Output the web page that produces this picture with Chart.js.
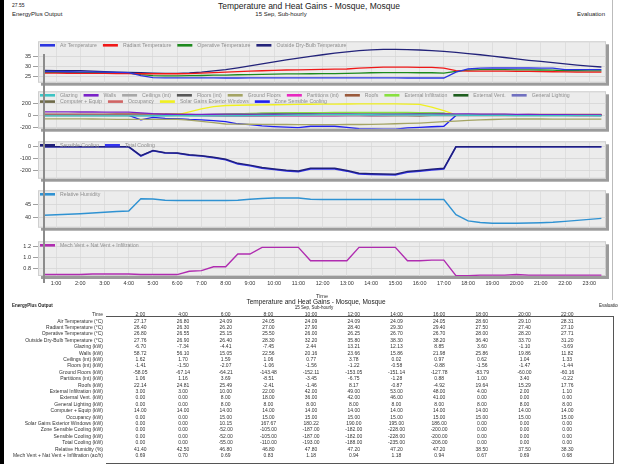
<!DOCTYPE html>
<html><head><meta charset="utf-8">
<script src="https://cdn.jsdelivr.net/npm/chart.js@4/dist/chart.umd.min.js"></script>
<style>
html,body{margin:0;padding:0}
body{width:618px;height:464px;overflow:hidden;background:#fff;position:relative;font-family:"Liberation Sans",Arial,sans-serif;color:#222}
.t{position:absolute;white-space:nowrap;line-height:1}
canvas{position:absolute;left:0}
#edge{position:absolute;left:0;top:0;width:4px;height:464px;background:#000}
#rborder{position:absolute;left:612px;top:0;width:1px;height:300px;background:#bbb}
#cursor{position:absolute;left:43px;top:54px;width:1.5px;height:229px;background:#8c8c8c;z-index:5}
#tbox{position:absolute;left:106px;top:316px;width:507px;height:146px;border-top:1px solid #555;border-right:1px solid #555;border-bottom:1px solid #555}
#tbl{position:absolute;left:0;top:310px;border-collapse:collapse;table-layout:fixed;font-size:5px}
#tbl td{height:6.4px;padding:0;line-height:6.4px;white-space:nowrap;overflow:visible}
#tbl tr.hd td{height:7.5px;line-height:6px}
#tbl td.lab{text-align:right;padding-right:16px;color:#333}
#tbl td.v{text-align:center;color:#333}
</style></head><body>
<div id="edge"></div>
<div id="rborder"></div>
<div class="t" style="left:12px;top:3px;font-size:5px">27.55</div>
<div class="t" style="left:12px;top:11px;font-size:6px">EnergyPlus Output</div>
<div class="t" style="left:309px;top:2px;font-size:8.5px;transform:translateX(-50%)">Temperature and Heat Gains - Mosque, Mosque</div>
<div class="t" style="left:281px;top:11px;font-size:6px;transform:translateX(-50%)">15 Sep, Sub-hourly</div>
<div class="t" style="left:577px;top:11px;font-size:6px">Evaluation</div>

<canvas id="c1" width="618" height="52" style="top:36px"></canvas>
<canvas id="c2" width="618" height="48" style="top:86px"></canvas>
<canvas id="c3" width="618" height="48" style="top:136px"></canvas>
<canvas id="c4" width="618" height="48" style="top:185px"></canvas>
<canvas id="c5" width="618" height="64" style="top:236px"></canvas>
<div id="cursor"></div>

<div class="t" style="left:12px;top:304px;font-size:4.5px;font-weight:bold">EnergyPlus Output</div>
<div class="t" style="left:316px;top:299px;font-size:6.5px;transform:translateX(-50%)">Temperature and Heat Gains - Mosque, Mosque</div>
<div class="t" style="left:314px;top:306px;font-size:4.5px;transform:translateX(-50%)">15 Sep, Sub-hourly</div>
<div class="t" style="left:599px;top:304px;font-size:4.5px">Evaluation</div>
<div id="tbox"></div>
<table id="tbl"></table>

<script>
// Time of each half-hourly sample (hours)
const times = [0.5,1,1.5,2,2.5,3,3.5,4, 4.5,5,5.5,6,6.5,7,7.5,8, 8.5,9,9.5,10,10.5,11,11.5,12,
  12.5,13,13.5,14,14.5,15,15.5,16, 16.5,17,17.5,18,18.5,19,19.5,20, 20.5,21,21.5,22,22.5,23,23.5];
const hourTicks = [1,2,3,4,5,6,7,8,9,10,11,12,13,14,15,16,17,18,19,20,21,22,23];
const tableHours = [2,4,6,8,10,12,14,16,18,20,22];

// Temperatures (°C)
const airTemp = [27.30,27.25,27.20,27.17,27.10,27.00,26.90,26.80, 25.20,24.20,24.10,24.09,24.09,24.09,24.07,24.05,
  24.05,24.07,24.09,24.09,24.09,24.09,24.09,24.09, 24.09,24.09,24.09,24.09,24.09,24.07,24.05,24.05,
  24.05,24.05,27.00,28.60,29.00,29.10,29.10,29.10, 29.10,29.05,29.00,28.31,28.30,28.30,28.30];
const radiantTemp = [26.50,26.50,26.45,26.40,26.40,26.35,26.30,26.30, 26.20,26.20,26.20,26.20,26.30,26.50,26.80,27.00,
  27.30,27.50,27.70,27.90,28.10,28.20,28.30,28.40, 28.50,28.60,29.00,29.30,29.50,29.50,29.50,29.40,
  29.40,29.00,27.80,27.50,27.50,27.50,27.50,27.40, 27.40,27.30,27.20,27.10,27.00,27.00,27.00];
const operativeTemp = [26.90,26.90,26.85,26.80,26.75,26.70,26.60,26.55, 25.70,25.20,25.15,25.15,25.20,25.30,25.45,25.50,
  25.70,25.80,25.90,26.00,26.10,26.15,26.20,26.25, 26.30,26.35,26.50,26.70,26.80,26.80,26.80,26.70,
  26.70,26.50,27.40,28.00,28.30,28.30,28.30,28.20, 28.20,28.10,28.00,27.71,27.70,27.65,27.60];
const outsideTemp = [27.90,27.80,27.80,27.76,27.50,27.20,27.00,26.90, 26.70,26.50,26.40,26.40,26.60,27.00,27.60,28.30,
  29.20,30.20,31.20,32.20,33.20,34.10,35.00,35.80, 36.60,37.30,37.90,38.30,38.50,38.50,38.40,38.20,
  37.90,37.50,37.00,36.40,35.80,35.10,34.40,33.70, 33.00,32.40,31.80,31.20,30.60,30.10,29.60];

// Heat gains (kW)
const glazing = [-6.30,-6.50,-6.60,-6.70,-6.90,-7.10,-7.20,-7.34, -6.00,-5.00,-4.60,-4.41,-5.00,-6.00,-6.80,-7.45,
  -5.00,-3.00,-1.00,2.44,5.00,8.00,10.50,13.21, 13.50,13.30,12.80,12.13,11.50,10.50,9.80,8.85,
  7.50,6.00,4.50,3.60,2.00,0.80,0.00,-1.10, -1.80,-2.40,-3.00,-3.69,-4.00,-4.30,-4.50];
const walls = [59.50,59.20,59.00,58.72,58.00,57.30,56.70,56.10, 45.00,30.00,20.00,15.05,16.00,18.00,20.00,22.56,
  22.00,21.50,21.00,20.16,20.80,21.60,22.50,23.66, 22.00,20.00,18.00,15.86,17.00,19.00,20.50,21.98,
  24.00,26.00,27.00,25.86,24.00,22.00,21.00,19.86, 17.00,15.50,14.00,11.82,11.00,10.50,10.00];
const ceilings = [1.60,1.60,1.61,1.62,1.64,1.66,1.68,1.70, 1.70,1.70,1.60,1.59,1.40,1.20,1.10,1.06,
  1.00,0.90,0.80,0.77,1.50,2.50,3.30,3.78, 3.00,2.00,1.00,0.02,0.30,0.50,0.80,0.97,
  0.90,0.80,0.70,0.62,0.80,0.90,1.00,1.04, 1.10,1.20,1.30,1.33,1.35,1.40,1.40];
const floors = [-1.40,-1.40,-1.41,-1.41,-1.43,-1.45,-1.48,-1.50, -1.70,-1.90,-2.00,-2.07,-1.80,-1.50,-1.20,-1.06,
  -1.20,-1.30,-1.45,-1.56,-1.50,-1.40,-1.30,-1.22, -1.00,-0.80,-0.65,-0.58,-0.65,-0.75,-0.80,-0.88,
  -1.10,-1.30,-1.50,-1.56,-1.52,-1.50,-1.48,-1.47, -1.46,-1.45,-1.45,-1.44,-1.44,-1.43,-1.43];
const groundFloors = [-57.00,-57.50,-57.80,-58.05,-60.00,-62.50,-65.00,-67.14, -66.00,-65.00,-64.50,-64.21,-80.00,-100.00,-120.00,-143.48,
  -146.00,-148.00,-150.00,-152.11,-152.50,-152.80,-153.00,-153.05, -152.80,-152.50,-152.00,-151.14,-145.00,-140.00,-134.00,-127.78,
  -118.00,-105.00,-95.00,-83.79,-75.00,-68.00,-63.00,-60.00, -60.00,-60.00,-60.10,-60.16,-60.20,-60.20,-60.30];
const partitions = [1.00,1.02,1.04,1.06,1.08,1.10,1.13,1.16, 2.00,3.00,3.50,3.69,0.00,-4.00,-7.00,-8.51,
  -7.00,-5.50,-4.50,-3.45,-4.50,-5.50,-6.20,-6.75, -5.00,-3.50,-2.00,-1.28,-0.50,0.00,0.50,0.88,
  0.90,0.95,1.00,1.00,1.80,2.50,3.00,3.40, 2.50,1.50,0.50,-0.22,-0.30,-0.40,-0.50];
const roofs = [21.00,21.40,21.80,22.14,22.80,23.50,24.20,24.81, 25.00,25.20,25.40,25.49,18.00,10.00,3.00,-2.41,
  -2.00,-1.80,-1.60,-1.46,1.00,4.00,6.50,8.17, 6.00,4.00,1.50,-0.87,-2.00,-3.00,-4.00,-4.92,
  0.00,6.00,14.00,19.64,19.00,18.00,16.50,15.29, 15.80,16.40,17.00,17.76,18.00,18.20,18.40];
const extInfiltration = [3.00,3.00,3.00,3.00,3.00,3.00,3.00,3.00, 8.00,10.00,10.00,10.00,12.00,15.00,18.00,22.00,
  28.00,33.00,38.00,42.00,45.00,47.00,48.00,49.00, 50.00,51.00,52.00,53.00,52.00,51.00,50.00,48.00,
  45.00,40.00,6.00,4.00,3.50,3.00,2.50,2.00, 1.80,1.50,1.30,1.10,1.00,0.90,0.80];
const extVent = [0.00,0.00,0.00,0.00,0.00,0.00,0.00,0.00, 5.00,8.00,8.00,8.00,10.00,12.00,15.00,18.00,
  24.00,28.00,33.00,36.00,38.00,40.00,41.00,42.00, 43.00,44.00,45.00,46.00,45.00,44.00,43.00,41.00,
  38.00,34.00,0.00,0.00,0.00,0.00,0.00,0.00, 0.00,0.00,0.00,0.00,0.00,0.00,0.00];
const lighting = [0.00,0.00,0.00,0.00,0.00,0.00,0.00,0.00, 8.00,8.00,8.00,8.00,8.00,8.00,8.00,8.00,
  8.00,8.00,8.00,8.00,8.00,8.00,8.00,8.00, 8.00,8.00,8.00,8.00,8.00,8.00,8.00,8.00,
  8.00,8.00,8.00,8.00,8.00,8.00,8.00,8.00, 8.00,8.00,8.00,8.00,8.00,8.00,8.00];
const equipment = [14.00,14.00,14.00,14.00,14.00,14.00,14.00,14.00, 14.00,14.00,14.00,14.00,14.00,14.00,14.00,14.00,
  14.00,14.00,14.00,14.00,14.00,14.00,14.00,14.00, 14.00,14.00,14.00,14.00,14.00,14.00,14.00,14.00,
  14.00,14.00,14.00,14.00,14.00,14.00,14.00,14.00, 14.00,14.00,14.00,14.00,14.00,14.00,14.00];
const occupancy = [0.00,0.00,0.00,0.00,0.00,0.00,0.00,0.00, 15.00,15.00,15.00,15.00,15.00,15.00,15.00,15.00,
  15.00,15.00,15.00,15.00,15.00,15.00,15.00,15.00, 15.00,15.00,15.00,15.00,15.00,15.00,15.00,15.00,
  15.00,15.00,15.00,15.00,15.00,15.00,15.00,15.00, 15.00,15.00,15.00,15.00,15.00,15.00,15.00];
const solarGains = [0.00,0.00,0.00,0.00,0.00,0.00,0.00,0.00, 0.00,0.00,2.00,10.15,60.00,110.00,150.00,167.67,
  172.00,176.00,178.00,180.22,183.00,186.00,189.00,190.00, 192.00,193.00,194.00,195.00,195.00,195.00,190.00,186.00,
  140.00,80.00,12.00,0.00,0.00,0.00,0.00,0.00, 0.00,0.00,0.00,0.00,0.00,0.00,0.00];
const sensibleCooling = [0.00,0.00,0.00,0.00,0.00,0.00,0.00,0.00, -75.00,-31.00,-50.00,-52.00,-68.00,-75.00,-88.00,-105.00,
  -140.00,-155.00,-175.00,-187.00,-198.00,-205.00,-182.00,-182.00, -182.00,-200.00,-224.00,-228.00,-230.00,-232.00,-208.00,-200.00,
  -190.00,-182.00,0.00,0.00,0.00,0.00,0.00,0.00, 0.00,0.00,0.00,0.00,0.00,0.00,0.00];
const totalCooling = [0.00,0.00,0.00,0.00,0.00,0.00,0.00,0.00, -78.00,-33.00,-53.00,-55.00,-71.00,-78.00,-92.00,-110.00,
  -145.00,-160.00,-181.00,-193.00,-204.00,-211.00,-188.00,-188.00, -188.00,-206.00,-231.00,-235.00,-237.00,-239.00,-215.00,-206.00,
  -196.00,-188.00,0.00,0.00,0.00,0.00,0.00,0.00, 0.00,0.00,0.00,0.00,0.00,0.00,0.00];

// Humidity (%) and air change rate (ac/h)
const relHumidity = [40.80,41.00,41.20,41.40,41.70,42.00,42.30,42.50, 47.50,47.40,46.90,46.80,46.80,46.80,46.80,46.80,
  46.90,47.30,47.60,47.80,47.80,47.80,47.30,47.20, 47.20,47.20,47.20,47.20,47.20,47.20,47.20,47.20,
  47.20,47.20,41.00,38.50,37.80,37.50,37.50,37.50, 37.60,37.70,37.90,38.30,38.70,39.10,39.50];
const airChanges = [0.69,0.69,0.69,0.69,0.70,0.70,0.70,0.70, 0.69,0.69,0.69,0.69,0.75,0.76,0.83,0.83,
  1.06,1.06,1.18,1.18,1.18,1.18,0.94,0.94, 0.94,0.94,1.18,1.18,1.18,1.18,0.94,0.94,
  0.95,0.95,0.67,0.67,0.68,0.68,0.68,0.69, 0.68,0.68,0.68,0.68,0.68,0.68,0.68];

function series(label, values, color, width) {
  return {label, data: values.map((v, i) => ({x: times[i], y: v})), borderColor: color,
    backgroundColor: color, borderWidth: width || 1.3, pointRadius: 0, tension: 0, fill: false};
}

// Gray plot frame with a drop shadow
const framePlugin = {
  id: 'frame',
  beforeDraw(chart) {
    const {ctx, chartArea: a} = chart;
    ctx.save();
    ctx.fillStyle = '#9b9b9b';
    ctx.fillRect(a.left + 3, a.top + 3, a.right - a.left, a.bottom - a.top);
    ctx.fillStyle = '#ececec';
    ctx.fillRect(a.left, a.top, a.right - a.left, a.bottom - a.top);
    ctx.strokeStyle = '#cfcfcf';
    ctx.lineWidth = 1;
    ctx.strokeRect(a.left + 0.5, a.top + 0.5, a.right - a.left - 1, a.bottom - a.top - 1);
    ctx.restore();
  }
};

// Legend drawn inside the top of the plot frame
const insideLegend = {
  id: 'insideLegend',
  afterDatasetsDraw(chart) {
    const {ctx, chartArea: a} = chart;
    ctx.save();
    ctx.font = '5.2px "Liberation Sans", Arial, sans-serif';
    ctx.textBaseline = 'middle';
    let x = a.left + 2, y = a.top + 4;
    chart.data.datasets.forEach(ds => {
      const tw = ctx.measureText(ds.label).width;
      const w = 20 + tw;
      if (x + w > a.right - 2) { x = a.left + 2; y += 6.3; }
      ctx.fillStyle = ds.borderColor;
      ctx.fillRect(x, y - 1.3, 15, 2.6);
      ctx.fillStyle = '#8e8e8e';
      ctx.fillText(ds.label, x + 20, y + 0.3);
      x += w + 6;
    });
    ctx.restore();
  }
};

function panel(id, datasets, yMin, yMax, yTicks, decimals, showX) {
  return new Chart(document.getElementById(id), {
    type: 'line',
    data: {datasets},
    options: {
      responsive: false, animation: false, events: [],
      layout: {padding: {left: 0, right: 12, top: 4, bottom: showX ? 0 : 4}},
      plugins: {legend: {display: false}, tooltip: {enabled: false}},
      scales: {
        x: {
          type: 'linear', min: 0.257, max: 23.69,
          afterBuildTicks: s => { s.ticks = hourTicks.map(v => ({value: v})); },
          afterFit: s => { s.height = showX ? 24 : 0; },
          grid: {color: '#dadada', lineWidth: 0.8, drawTicks: false},
          border: {display: false},
          ticks: {display: showX, padding: 4, maxRotation: 0, autoSkip: false,
            color: '#333', font: {size: 5.5, family: '"Liberation Sans", Arial'},
            callback: v => v + ':00'},
          title: {display: showX, text: 'Time', color: '#333', padding: {top: 1, bottom: 0},
            font: {size: 5.5, family: '"Liberation Sans", Arial'}}
        },
        y: {
          min: yMin, max: yMax,
          afterBuildTicks: s => { s.ticks = yTicks.map(v => ({value: v})); },
          afterFit: s => { s.width = 38; },
          grid: {color: '#d6d6d6', lineWidth: 0.8, tickLength: 5, tickColor: '#888'},
          border: {display: false},
          ticks: {color: '#333', padding: 2, font: {size: 5.5, family: '"Liberation Sans", Arial'},
            callback: v => v.toFixed(decimals)}
        }
      }
    },
    plugins: [framePlugin, insideLegend]
  });
}

panel('c1', [
  series('Air Temperature', airTemp, '#2b35e0'),
  series('Radiant Temperature', radiantTemp, '#f01818'),
  series('Operative Temperature', operativeTemp, '#1e8a1e'),
  series('Outside Dry-Bulb Temperature', outsideTemp, '#23237a')
], 21.67, 42.6, [25, 30, 35], 0, false);

panel('c2', [
  series('Glazing', glazing, '#3cc4c4'),
  series('Walls', walls, '#7a22c8'),
  series('Ceilings (int)', ceilings, '#a8a8a8'),
  series('Floors (int)', floors, '#585858'),
  series('Ground Floors', groundFloors, '#a4a464'),
  series('Partitions (int)', partitions, '#e828c0'),
  series('Roofs', roofs, '#9a5a3c'),
  series('External Infiltration', extInfiltration, '#88e040'),
  series('External Vent.', extVent, '#1e5e1e'),
  series('General Lighting', lighting, '#7070c0'),
  series('Computer + Equip', equipment, '#6e6a48'),
  series('Occupancy', occupancy, '#d06464'),
  series('Solar Gains Exterior Windows', solarGains, '#f0f020'),
  series('Zone Sensible Cooling', sensibleCooling, '#2020f0')
], -223, 407, [-200, 0, 200], 0, false);

panel('c3', [
  series('Sensible Cooling', sensibleCooling, '#20207a', 1.5),
  series('Total Cooling', totalCooling, '#3535f0', 1.5)
], -270, 46.7, [-200, -100, 0], 0, false);

panel('c4', [
  series('Relative Humidity', relHumidity, '#2f92d2', 1.4)
], 35.7, 50.96, [40, 45], 0, false);

panel('c5', [
  series('Mech Vent + Nat Vent + Infiltration', airChanges, '#b02cb0', 1.4)
], 0.664, 1.289, [0.8, 1.0, 1.2], 1, true);

// Summary table at even hours
const tableRows = [
  ['Air Temperature (°C)', airTemp], ['Radiant Temperature (°C)', radiantTemp],
  ['Operative Temperature (°C)', operativeTemp], ['Outside Dry-Bulb Temperature (°C)', outsideTemp],
  ['Glazing (kW)', glazing], ['Walls (kW)', walls], ['Ceilings (int) (kW)', ceilings], ['Floors (int) (kW)', floors],
  ['Ground Floors (kW)', groundFloors], ['Partitions (int) (kW)', partitions], ['Roofs (kW)', roofs],
  ['External Infiltration (kW)', extInfiltration], ['External Vent. (kW)', extVent],
  ['General Lighting (kW)', lighting], ['Computer + Equip (kW)', equipment], ['Occupancy (kW)', occupancy],
  ['Solar Gains Exterior Windows (kW)', solarGains], ['Zone Sensible Cooling (kW)', sensibleCooling],
  ['Sensible Cooling (kW)', sensibleCooling], ['Total Cooling (kW)', totalCooling],
  ['Relative Humidity (%)', relHumidity], ['Mech Vent + Nat Vent + Infiltration (ac/h)', airChanges]
];
const tbl = document.getElementById('tbl');
let html = '<colgroup><col style="width:119px">' + tableHours.map(() => '<col style="width:42.7px">').join('') + '</colgroup>';
html += '<tr class="hd"><td class="lab">Time</td>' + tableHours.map(h => '<td class="v">' + h + ':00</td>').join('') + '</tr>';
tableRows.forEach(([name, vals]) => {
  html += '<tr><td class="lab">' + name + '</td>' +
    tableHours.map(h => '<td class="v">' + vals[times.indexOf(h)].toFixed(2) + '</td>').join('') + '</tr>';
});
tbl.innerHTML = html;
</script>
</body></html>
